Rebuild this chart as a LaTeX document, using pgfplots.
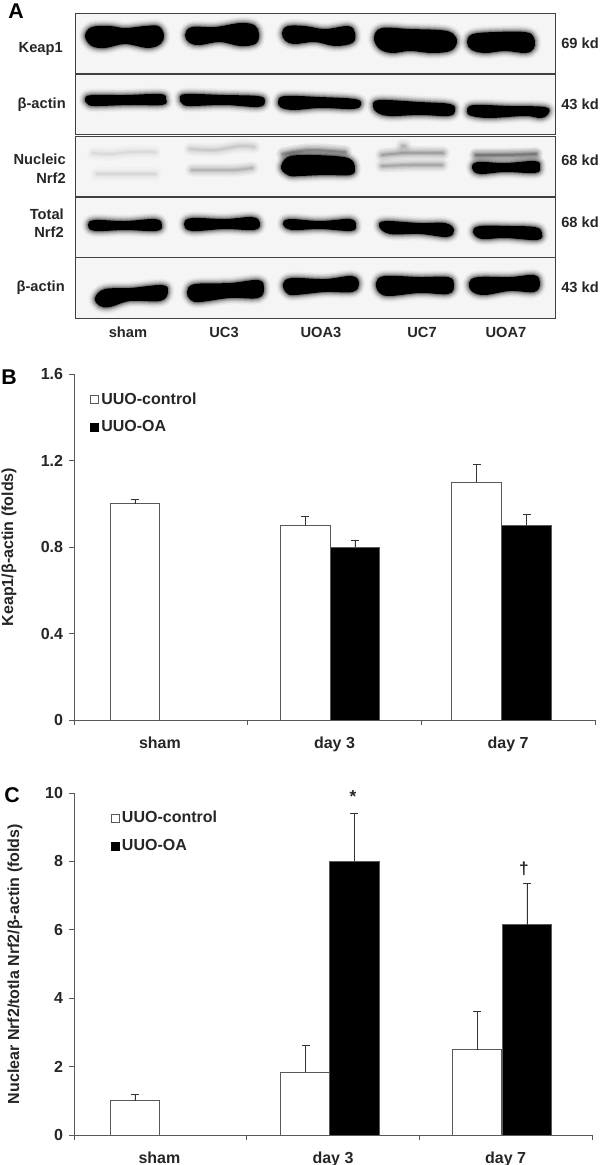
\documentclass[border=0pt]{standalone}
\usepackage{fontspec}
\setmainfont{Liberation Sans}
\usepackage{pgfplots}
\pgfplotsset{compat=1.18}
\definecolor{axc}{gray}{0.35}
\definecolor{gel}{gray}{0.96}
% a band: soft halo strokes and then a fill, from an outline in image pixels
\pgfplotsset{bl/.style={draw=black,/tikz/smooth cycle,tension=.6,line join=round,forget plot}}
\newcommand\blot[1]{%
 \addplot[bl,opacity=.035,line width=11pt] coordinates {#1};
 \addplot[bl,opacity=.05,line width=9pt] coordinates {#1};
 \addplot[bl,opacity=.07,line width=7.5pt] coordinates {#1};
 \addplot[bl,opacity=.10,line width=6pt] coordinates {#1};
 \addplot[bl,opacity=.14,line width=4.5pt] coordinates {#1};
 \addplot[bl,opacity=.22,line width=3pt] coordinates {#1};
 \addplot[bl,fill=black,line width=1.5pt] coordinates {#1};
}
\newcommand\faint[2]{%
 \addplot[draw=black,opacity=.45*#2,line width=10pt,smooth,line cap=round,forget plot] coordinates {#1};
 \addplot[draw=black,opacity=.6*#2,line width=7.5pt,smooth,line cap=round,forget plot] coordinates {#1};
 \addplot[draw=black,opacity=.7*#2,line width=5pt,smooth,line cap=round,forget plot] coordinates {#1};
 \addplot[draw=black,opacity=.8*#2,line width=3pt,smooth,line cap=round,forget plot] coordinates {#1};
 \addplot[draw=black,opacity=#2,line width=1.5pt,smooth,line cap=round,forget plot] coordinates {#1};
}
\newcommand\gelrow[2]{%
 \addplot[draw=black!75,fill=gel,line width=.65pt,forget plot] coordinates {(75,#1)(555,#1)(555,#2)(75,#2)} -- cycle;
}
\pgfplotsset{
 panel/.style={
  scale only axis,anchor=origin,
  axis lines=left,axis line style={axc,-,line width=.6pt},
  tick style={axc,line width=.6pt},tick align=outside,major tick length=3.7pt,
  xmin=0,xmax=3,xtick={0,1,2,3},xticklabels={},
  extra x ticks={0.495,1.5,2.5},
  extra x tick labels={sham,day 3,day 7},
  extra x tick style={major tick length=0pt},
  tick label style={font=\bfseries\fontsize{12}{14}\selectfont,text=black!85},
  /pgf/number format/assume math mode=true,
  y tick label style={xshift=-1pt},
  x tick label style={yshift=-9pt},
  ylabel style={font=\bfseries\fontsize{12}{14}\selectfont,text=black!85},
  legend style={draw=none,fill=none,anchor=north west,
    font=\bfseries\fontsize{12}{14}\selectfont,text=black!85,
    row sep=7pt,inner sep=0pt},
  legend cell align=left,
 },
 white bar/.style={ybar,bar width=37pt,bar shift=0pt,draw=axc,fill=white,line width=.7pt,
   legend image code/.code={\draw[draw=axc,fill=white,line width=.6pt] (0pt,-3pt) rectangle (6pt,3pt);},
   error bars/.cd,y dir=plus,y explicit,
   error bar style={black!80,line width=.6pt},
   error mark options={black!80,rotate=90,mark size=3pt,line width=.6pt}},
 black bar/.style={ybar,bar width=37pt,bar shift=0pt,draw=axc,fill=black,line width=.7pt,
   legend image code/.code={\draw[draw=black,fill=black,line width=.6pt] (0pt,-3pt) rectangle (6pt,3pt);},
   error bars/.cd,y dir=plus,y explicit,
   error bar style={black!80,line width=.6pt},
   error mark options={black!80,rotate=90,mark size=3pt,line width=.6pt}},
}
\begin{document}
\begin{tikzpicture}
\path[use as bounding box] (0pt,0pt) rectangle (450pt,-873.75pt);
% ---------- Panel A
\begin{axis}[at={(0pt,0pt)},anchor=north west,scale only axis,width=450pt,height=247.5pt,
  xmin=0,xmax=600,ymin=0,ymax=330,y dir=reverse,axis lines=none,clip=false]
\gelrow{13}{73}\gelrow{74}{134}\gelrow{136}{196}\gelrow{197}{257}\gelrow{257}{318}
% Keap1
\blot{(86,36)(92,28)(110,27)(125,29)(145,27)(158,27)(163,35)(160,43)(148,47)(125,43)(105,47)(92,45)}
\blot{(186,35)(192,28)(215,28)(240,24)(254,26)(258,34)(255,43)(240,45)(220,41)(200,44)(190,42)}
\blot{(283,33)(288,27)(305,27)(325,30)(348,27)(354,33)(352,42)(335,45)(315,41)(295,43)(286,40)}
\blot{(375,38)(382,29)(410,30)(440,31)(452,34)(456,42)(450,50)(432,52)(410,50)(392,52)(380,48)}
\blot{(468,42)(473,35)(495,33)(525,33)(533,38)(533,48)(525,52)(505,50)(485,52)(472,49)}
% actin 1
\blot{(86,99)(92,96)(125,96)(160,95)(165,99)(162,104)(130,104)(95,105)(88,103)}
\blot{(181,99)(186,95)(225,96)(258,97)(264,101)(258,106)(225,104)(190,105)(183,103)}
\blot{(279,102)(285,97)(320,98)(355,100)(360,105)(352,108)(320,107)(295,109)(282,107)}
\blot{(374,106)(380,101)(420,103)(450,105)(454,111)(448,115)(420,114)(390,115)(378,112)}
\blot{(468,111)(474,106)(510,107)(545,108)(547,114)(540,117)(525,115)(490,117)(472,115)}
% nucleic Nrf2, faint pairs
\faint{(93,153)(110,154)(130,152)(155,152)}{.03}
\faint{(97,174)(115,174)(140,174)(155,174)}{.035}
\faint{(190,149)(215,150)(240,146)(254,147)}{.05}
\faint{(192,170)(215,170)(235,170)(252,168)}{.08}
\faint{(283,154)(310,150)(345,152)}{.14}
\blot{(282,168)(288,158)(305,156)(335,157)(350,160)(354,168)(350,174)(325,174)(300,175)(290,175)}
\faint{(382,155)(405,153)(443,153)}{.11}
\faint{(382,166)(410,165)(442,165)}{.10}
\faint{(402,146)(405,146)}{.08}
\faint{(476,155)(505,155)(536,154)}{.18}
\blot{(473,168)(478,163)(505,164)(535,162)(539,167)(535,172)(505,171)(480,173)}
% total Nrf2
\blot{(89,225)(95,221)(125,222)(155,220)(161,225)(156,230)(125,229)(95,230)}
\blot{(185,224)(192,219)(225,220)(252,218)(259,223)(254,229)(225,228)(192,230)}
\blot{(284,224)(290,220)(320,222)(350,220)(355,226)(350,230)(320,228)(292,229)}
\blot{(380,226)(386,222)(420,224)(445,224)(453,230)(447,236)(420,233)(390,233)}
\blot{(474,232)(480,227)(510,227)(535,228)(541,233)(537,239)(505,237)(482,238)}
% actin 2
\blot{(96,298)(105,290)(130,289)(162,286)(167,292)(160,300)(130,300)(110,306)(100,305)}
\blot{(188,292)(195,285)(230,284)(258,281)(263,288)(258,297)(230,297)(200,301)(191,299)}
\blot{(284,284)(292,279)(325,280)(352,277)(358,284)(352,291)(325,291)(295,294)(287,292)}
\blot{(377,283)(385,277)(420,278)(448,278)(453,285)(448,293)(420,292)(390,295)(380,292)}
\blot{(470,283)(478,278)(510,278)(534,276)(539,283)(534,291)(510,290)(485,294)(473,291)}
\end{axis}
% ---------- Panel B
\begin{axis}[panel,at={(55.5pt,-540pt)},width=390.75pt,height=259.5pt,
  ymin=0,ymax=1.6,ytick={0,0.4,0.8,1.2,1.6},
  yticklabels={0,0.4,0.8,1.2,1.6},
  ylabel={Keap1/β-actin (folds)},
  ylabel style={at={(axis description cs:-0.125,0.5)},anchor=center},
  legend style={at={(axis description cs:0.03,0.955)}}]
\addplot[white bar] table[y error=e] {
x y e
0.351 1.0 0.02
1.333 0.9 0.04
2.318 1.1 0.08
};
\addlegendentry{UUO-control}
\addplot[black bar] table[y error=e] {
x y e
1.618 0.8 0.03
2.606 0.9 0.05
};
\addlegendentry{UUO-OA}
\end{axis}
% ---------- Panel C
\begin{axis}[panel,at={(55.5pt,-851.25pt)},width=388.5pt,height=256.5pt,
  ymin=0,ymax=10,ytick={0,2,4,6,8,10},
  ylabel={Nuclear Nrf2/totla Nrf2/β-actin (folds)},
  ylabel style={at={(axis description cs:-0.114,0.5)},anchor=center},
  legend style={at={(axis description cs:0.07,0.955)}}]
\addplot[white bar] table[y error=e] {
x y e
0.353 1.0 0.2
1.341 1.83 0.8
2.334 2.5 1.1
};
\addlegendentry{UUO-control}
\addplot[black bar] table[y error=e] {
x y e
1.624 8.0 1.4
2.623 6.15 1.2
};
\addlegendentry{UUO-OA}
\end{axis}
% ---------- text in image pixels
\begin{scope}[x=.75pt,y=-.75pt,every node/.style={inner sep=0pt,text=black!85,font=\bfseries\fontsize{11}{13}\selectfont}]
\node[font=\bfseries\fontsize{16}{18}\selectfont,text=black] at (16,11) {A};
\node[font=\bfseries\fontsize{16}{18}\selectfont,text=black] at (9,377) {B};
\node[font=\bfseries\fontsize{16}{18}\selectfont,text=black] at (12,795) {C};
\node[anchor=east] at (63,49) {Keap1};
\node[anchor=east] at (66,105) {β-actin};
\node[anchor=east] at (66,159) {Nucleic};
\node[anchor=east] at (66,178) {Nrf2};
\node[anchor=east] at (64,214) {Total};
\node[anchor=east] at (64,232) {Nrf2};
\node[anchor=east] at (65,288) {β-actin};
\foreach \y/\t in {43/69 kd,104/43 kd,160/68 kd,222/68 kd,287/43 kd}
  \node[anchor=west] at (561,\y) {\t};
\foreach \x/\t in {128/sham,224/UC3,321/UOA3,422/UC7,506/UOA7}
  \node at (\x,332) {\t};
\node[font=\bfseries\fontsize{13}{15}\selectfont] at (353,797) {*};
\node[font=\bfseries\fontsize{13}{15}\selectfont] at (524,869) {†};
\end{scope}
\end{tikzpicture}
\end{document}
